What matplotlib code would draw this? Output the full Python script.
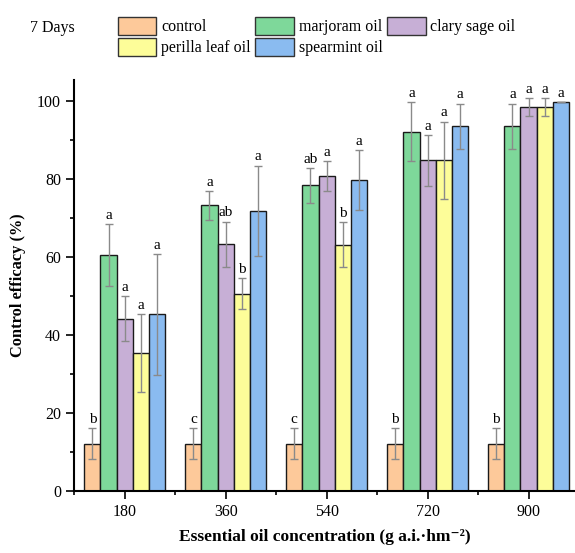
import matplotlib.pyplot as plt
import numpy as np
from matplotlib.patches import Patch

concentrations = ["180", "360", "540", "720", "900"]
series = ["control", "marjoram oil", "clary sage oil", "perilla leaf oil", "spearmint oil"]
colors = ["#FDC99A", "#7ED89A", "#C7AFD6", "#FDFD99", "#8ABBF0"]

control = [12.2, 12.2, 12.2, 12.2, 12.2]
marjoram = [60.6, 73.3, 78.4, 92.2, 93.6]
clary = [44.2, 63.3, 80.9, 84.8, 98.5]
perilla = [35.3, 50.6, 63.2, 84.8, 98.5]
spearmint = [45.3, 71.9, 79.8, 93.6, 99.8]

control_err = [3.9, 3.9, 3.9, 3.9, 3.9]
marjoram_err = [7.9, 3.7, 4.4, 7.6, 5.8]
clary_err = [5.8, 5.8, 3.8, 6.5, 2.3]
perilla_err = [10.0, 4.0, 5.8, 10.0, 2.3]
spearmint_err = [15.4, 11.6, 7.7, 5.8, 0.0]

letters = [
    ["b", "c", "c", "b", "b"],
    ["a", "a", "ab", "a", "a"],
    ["a", "ab", "a", "a", "a"],
    ["a", "b", "b", "a", "a"],
    ["a", "a", "a", "a", "a"],
]

values = [control, marjoram, clary, perilla, spearmint]
errors = [control_err, marjoram_err, clary_err, perilla_err, spearmint_err]

plt.rcParams['font.family'] = ['Liberation Serif', 'DejaVu Serif']

fig = plt.figure(figsize=(5.75, 5.53), dpi=100)
ax = fig.add_axes([0.129, 0.112, 0.871, 0.743])

x = np.arange(len(concentrations))
w = 0.16
for i, (vals, errs) in enumerate(zip(values, errors)):
    pos = x + (i - 2) * w
    ax.bar(pos, vals, w, color=colors[i], edgecolor="#1a1a1a", linewidth=1.0, zorder=2)
    eb = ax.errorbar(pos, vals, yerr=errs, fmt="none", ecolor="#8a8a8a",
                     elinewidth=1.0, capsize=2.8, capthick=1.0, zorder=3)
    for cap in eb[1]:
        cap.set_color("#333333")
    # significance letters above the error bars
    for j in range(len(pos)):
        ax.text(pos[j], vals[j] + errs[j] + 0.6, letters[i][j], ha="center",
                va="bottom", fontsize=11, zorder=4)

ax.set_xlim(-0.5, 4.46)
ax.set_ylim(0, 105.4)
ax.set_xticks(x)
ax.set_xticklabels(concentrations, fontsize=11.5)
ax.set_xticks(np.arange(-0.5, 4.5, 1.0), minor=True)
ax.set_yticks(np.arange(0, 101, 20))
ax.set_yticks(np.arange(10, 101, 20), minor=True)
ax.tick_params(axis="y", labelsize=11.5, length=6, width=1.2)
ax.tick_params(axis="y", which="minor", length=3, width=1.2)
ax.tick_params(axis="x", length=6, width=1.2)
ax.tick_params(axis="x", which="minor", length=3, width=1.2)
for s in ["top", "right"]:
    ax.spines[s].set_visible(False)
for s in ["left", "bottom"]:
    ax.spines[s].set_linewidth(1.5)

ax.set_ylabel("Control efficacy (%)", fontsize=11.8, fontweight="bold", labelpad=8)
ax.set_xlabel("Essential oil concentration (g a.i.·hm⁻²)", fontsize=12.5,
              fontweight="bold", labelpad=6)

handles = [Patch(facecolor=c, edgecolor="#333333", label=l) for c, l in zip(colors, series)]
order = [0, 3, 1, 4, 2]
fig.legend([handles[k] for k in order], [series[k] for k in order], ncol=3,
           loc="upper left", bbox_to_anchor=(0.18, 0.995), frameon=False,
           fontsize=11.5, handlelength=2.4, handleheight=1.35, columnspacing=0.3,
           handletextpad=0.3, labelspacing=0.15)
fig.text(0.052, 0.950, "7 Days", fontsize=11.5, va="center")

fig.savefig("out.png", dpi=100)
